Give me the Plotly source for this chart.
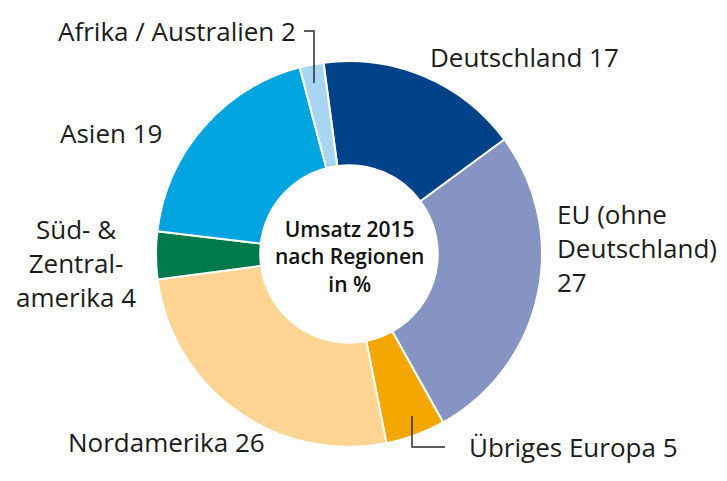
import plotly.graph_objects as go

categories = ["Deutschland", "EU (ohne<br>Deutschland)", "Übriges Europa", "Nordamerika",
              "Süd- &<br>Zentral-<br>amerika", "Asien", "Afrika / Australien"]
values = [17, 27, 5, 26, 4, 19, 2]
colors = ["#00428a", "#8594c2", "#f4a700", "#fdd491", "#007a4a", "#00a5e0", "#a8d6f2"]
center_text = "Umsatz 2015<br>nach Regionen<br>in %"

W, H = 727, 481
FONT = "Open Sans"

def px(x):
    return x / W

def py(y):
    return 1 - y / H

cx, cy, R = 349, 254, 193

fig = go.Figure(go.Pie(
    labels=categories,
    values=values,
    marker=dict(colors=colors, line=dict(color="white", width=2)),
    hole=0.46,
    sort=False,
    direction="clockwise",
    rotation=-7.6,
    textinfo="none",
    hoverinfo="label+value",
    showlegend=False,
    domain=dict(x=[px(cx - R), px(cx + R)], y=[py(cy + R), py(cy - R)]),
))

# label placement (pixel anchors)
label_pos = [
    (428, 57, "left", "middle"),
    (555, 248, "left", "middle"),
    (467, 447, "left", "middle"),
    (267, 442, "right", "middle"),
    (76, 263, "center", "middle"),
    (164, 133, "right", "middle"),
    (298, 31, "right", "middle"),
]

annotations = []
for cat, val, (x, y, xa, ya) in zip(categories, values, label_pos):
    if cat.startswith("EU"):
        txt = f"{cat}<br>{val}"
    else:
        txt = f"{cat} {val}"
    annotations.append(dict(
        x=px(x), y=py(y), xref="paper", yref="paper", text=txt, showarrow=False,
        xanchor=xa, yanchor=ya, align="left" if xa == "left" else ("center" if xa == "center" else "right"),
        font=dict(family=FONT, size=26, color="#1c1c1c", weight=400),
    ))

annotations.append(dict(
    x=px(cx), y=py(256), xref="paper", yref="paper", text=center_text, showarrow=False,
    xanchor="center", yanchor="middle", align="center",
    font=dict(family=FONT, size=21, color="#111111", weight=600),
))

def path(pts):
    return "M " + " L ".join(f"{px(x)},{py(y)}" for x, y in pts)

shapes = [
    dict(type="path", xref="paper", yref="paper", path=path([(304, 31), (314, 31), (314, 83)]),
         line=dict(color="#2a2a2a", width=1.5)),
    dict(type="path", xref="paper", yref="paper", path=path([(412, 416), (412, 447), (445, 447)]),
         line=dict(color="#2a2a2a", width=1.5)),
]

fig.update_layout(
    width=W, height=H,
    margin=dict(l=0, r=0, t=0, b=0),
    paper_bgcolor="white", plot_bgcolor="white",
    annotations=annotations, shapes=shapes,
)

fig.write_html("out.html", config={"displayModeBar": False},
               post_script="document.body.style.margin='0';")
